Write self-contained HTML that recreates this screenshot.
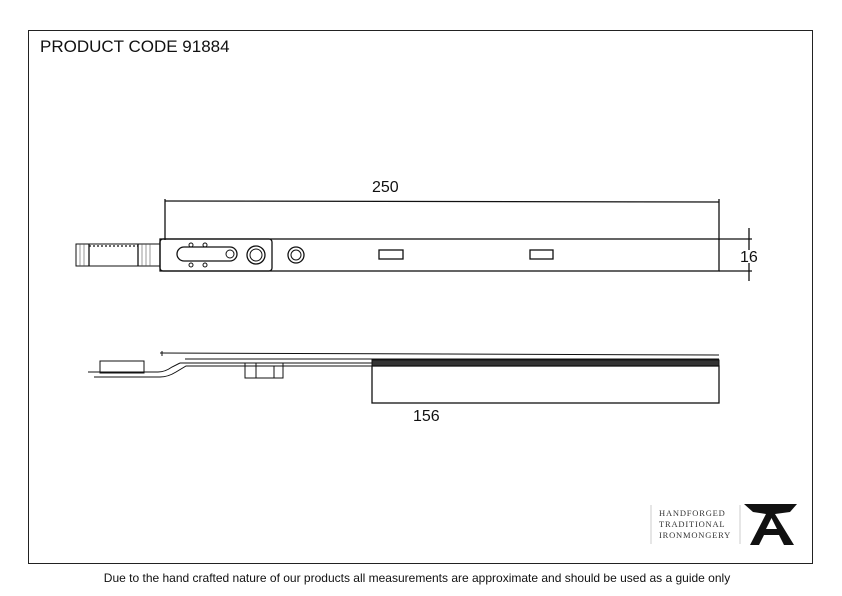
<!DOCTYPE html>
<html><head><style>body{margin:0;background:#fff}svg{display:block}</style></head><body>
<svg width="842" height="596" viewBox="0 0 842 596" xmlns="http://www.w3.org/2000/svg" font-family="Liberation Sans, sans-serif">
<rect x="28.5" y="30.5" width="784" height="533" fill="none" stroke="#222" stroke-width="1"/>
<text x="40" y="52" font-size="17" fill="#111">PRODUCT CODE 91884</text>
<g stroke="#111" fill="none" stroke-width="1.3">
<line x1="165" y1="199" x2="165" y2="240"/><line x1="719" y1="199" x2="719" y2="240"/>
<line x1="165" y1="201" x2="719" y2="202"/>
<line x1="719" y1="239" x2="752" y2="239"/><line x1="719" y1="271" x2="752" y2="271"/>
<line x1="749" y1="228" x2="749" y2="250"/><line x1="749" y1="263" x2="749" y2="281"/>
<rect x="160" y="239" width="559" height="32"/>
<rect x="160" y="239" width="112" height="32" rx="3"/>
<rect x="76" y="244" width="84" height="22" stroke-width="1"/>
<line x1="89" y1="244" x2="89" y2="266"/><line x1="138" y1="244" x2="138" y2="266"/>
<line x1="89" y1="246" x2="138" y2="246" stroke-dasharray="2 2"/>
<g stroke-width="0.6" stroke="#555">
<line x1="80" y1="244" x2="80" y2="266"/><line x1="84" y1="244" x2="84" y2="266"/>
<line x1="142" y1="244" x2="142" y2="266"/><line x1="146" y1="244" x2="146" y2="266"/>
<line x1="150" y1="244" x2="150" y2="266"/>
</g>
<rect x="177" y="247" width="60" height="14" rx="7"/>
<circle cx="230" cy="254" r="4" stroke-width="1"/>
<circle cx="191" cy="245" r="2" stroke-width="1"/><circle cx="205" cy="245" r="2" stroke-width="1"/>
<circle cx="191" cy="265" r="2" stroke-width="1"/><circle cx="205" cy="265" r="2" stroke-width="1"/>
<circle cx="256" cy="255" r="9"/><circle cx="256" cy="255" r="6" stroke-width="1"/>
<circle cx="296" cy="255" r="8"/><circle cx="296" cy="255" r="5" stroke-width="1"/>
<rect x="379" y="250" width="24" height="9"/>
<rect x="530" y="250" width="23" height="9"/>
<line x1="160" y1="353" x2="719" y2="355" stroke-width="1"/>
<line x1="162" y1="351" x2="162" y2="356" stroke-width="1"/>
<line x1="185" y1="359" x2="719" y2="359" stroke-width="1"/>
<line x1="180" y1="363" x2="372" y2="363" stroke-width="1"/>
<rect x="372" y="360" width="347" height="6" fill="#333" stroke-width="1"/>
<rect x="372" y="366" width="347" height="37"/>
<path d="M88 372 L158 372 Q165 372 172 367 L180 363" stroke-width="1"/>
<path d="M94 377 L160 377 Q168 377 176 372 L186 366 L372 366" stroke-width="1"/>
<rect x="100" y="361" width="44" height="12" stroke-width="1"/>
<rect x="245" y="363" width="38" height="15" stroke-width="1"/>
<line x1="256" y1="363" x2="256" y2="378" stroke-width="1"/>
<line x1="274" y1="366" x2="274" y2="378" stroke-width="1"/>
</g>
<text x="372" y="192" font-size="16" fill="#111">250</text>
<text x="740" y="262" font-size="16" fill="#111">16</text>
<text x="413" y="421" font-size="16" fill="#111">156</text>
<line x1="651" y1="505" x2="651" y2="544" stroke="#ccc"/>
<line x1="740" y1="505" x2="740" y2="544" stroke="#ccc"/>
<g font-family="Liberation Serif, serif" font-size="8.5" fill="#333" letter-spacing="0.8">
<text x="659" y="516">HANDFORGED</text>
<text x="659" y="527">TRADITIONAL</text>
<text x="659" y="538">IRONMONGERY</text>
</g>
<path d="M744 504 L797 504 L790 512 L775 514 L794 545 L784 545 L779 535 L764 535 L759 545 L750 545 L766 514 L753 512 Z M766 529 L777 529 L771.5 518 Z" fill="#111"/>
<text x="417" y="582" font-size="12" fill="#111" text-anchor="middle">Due to the hand crafted nature of our products all measurements are approximate and should be used as a guide only</text>
</svg>
</body></html>
